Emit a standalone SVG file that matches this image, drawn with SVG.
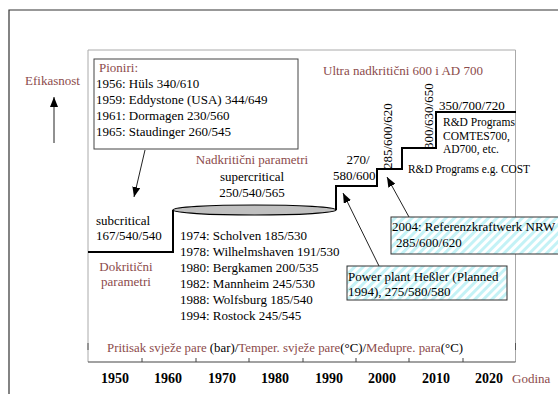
<svg xmlns="http://www.w3.org/2000/svg" width="558" height="394" viewBox="0 0 558 394" font-family="'Liberation Serif', 'Times New Roman', Tinos, 'DejaVu Serif', serif">
<style>
text{font-family:'Liberation Serif','Times New Roman',Tinos,'DejaVu Serif',serif;font-size:13px;fill:#000}
.br{fill:#8C4B4B}
.yr{font-weight:bold;font-size:14px;text-anchor:middle}
.sm{font-size:11.5px}
.step{fill:none;stroke:#000;stroke-width:2}
.arr{stroke:#222;stroke-width:1;fill:none;marker-end:url(#ah)}
.hatch{fill:url(#stripes);stroke:#333;stroke-width:1}
</style>
<defs>
<marker id="ah" viewBox="0 0 10 8" refX="10" refY="4" markerWidth="10" markerHeight="8" markerUnits="userSpaceOnUse" orient="auto">
<path d="M0,0 L10,4 L0,8 Z" fill="#000"/>
</marker>
<pattern id="stripes" width="6" height="6" patternUnits="userSpaceOnUse" patternTransform="rotate(45)">
<rect width="6" height="6" fill="#fff"/>
<rect width="3" height="6" fill="#c4f2f6"/>
</pattern>
</defs>
<rect width="558" height="394" fill="#fff"/>
<g id="frame">
<path d="M9,394 V10 H558" fill="none" stroke="#333" stroke-width="1.2"/>
<path d="M88,362 V50 H515.5 V362" fill="none" stroke="#aaa" stroke-width="1"/>
<path d="M88,362 H515.5" stroke="#444" stroke-width="1.2"/>
<path d="M88,343 v7 M515.5,343 v7" stroke="#555" stroke-width="1"/>
<path d="M142,358 v4 M196,358 v4 M249,358 v4 M303,358 v4 M356,358 v4 M409,358 v4 M463,358 v4" stroke="#444" stroke-width="1"/>
</g>
<g id="axis-labels">
<text class="yr" x="115" y="383">1950</text>
<text class="yr" x="168" y="383">1960</text>
<text class="yr" x="222" y="383">1970</text>
<text class="yr" x="275" y="383">1980</text>
<text class="yr" x="329" y="383">1990</text>
<text class="yr" x="382" y="383">2000</text>
<text class="yr" x="436" y="383">2010</text>
<text class="yr" x="489" y="383">2020</text>
<text class="br" x="512" y="383" font-size="12.5">Godina</text>
<text class="br" x="25" y="85" font-size="12.5">Efikasnost</text>
<text x="107" y="352" font-size="12.5" textLength="356" lengthAdjust="spacingAndGlyphs"><tspan class="br">Pritisak svježe pare</tspan> (bar)/<tspan class="br">Temper. svježe pare</tspan>(°C)/<tspan class="br">Međupre. para</tspan>(°C)</text>
</g>
<g id="steps">
<path class="step" d="M88,252 H173 V210"/>
<ellipse cx="254.5" cy="210" rx="81.5" ry="5" fill="#c0c0c0" stroke="#000" stroke-width="1.2"/>
<path class="step" d="M173,212 V252"/>
<path class="step" d="M336,210 V186 H377 V169 H402 V148 H436 V112 H516"/>
</g>
<g id="connectors">
<path class="arr" d="M54,143 V97"/>
<path class="arr" d="M145,150 L134,197"/>
<path class="arr" d="M379,266 L343,193"/>
<path class="arr" d="M409,217 L387,177"/>
</g>
<g id="pioniri">
<rect x="94" y="59" width="204" height="90" fill="#fff" stroke="#444" stroke-width="1"/>
<text class="br" x="99" y="72">Pioniri:</text>
<text x="96" y="88">1956: Hüls 340/610</text>
<text x="96" y="104">1959: Eddystone (USA) 344/649</text>
<text x="96" y="120">1961: Dormagen 230/560</text>
<text x="96" y="136">1965: Staudinger 260/545</text>
</g>
<g id="subcritical">
<text x="96" y="225">subcritical</text>
<text x="96" y="240">167/540/540</text>
<text class="br" x="126" y="271" text-anchor="middle">Dokritični</text>
<text class="br" x="126" y="286" text-anchor="middle">parametri</text>
</g>
<g id="supercritical">
<text class="br" x="252" y="164" text-anchor="middle">Nadkritični parametri</text>
<text x="252" y="181" text-anchor="middle">supercritical</text>
<text x="252" y="197" text-anchor="middle">250/540/565</text>
</g>
<g id="plants">
<text x="180" y="240">1974: Scholven 185/530</text>
<text x="180" y="256">1978: Wilhelmshaven 191/530</text>
<text x="180" y="272">1980: Bergkamen 200/535</text>
<text x="180" y="288">1982: Mannheim 245/530</text>
<text x="180" y="304">1988: Wolfsburg 185/540</text>
<text x="180" y="320">1994: Rostock 245/545</text>
</g>
<g id="ultra">
<text class="br" x="323" y="75">Ultra nadkritični 600 i AD 700</text>
<text x="358" y="164" text-anchor="middle">270/</text>
<text x="333" y="180">580/600</text>
<text transform="translate(392,169) rotate(-90)">285/600/620</text>
<text transform="translate(433,149) rotate(-90)">300/630/650</text>
<text x="439" y="110">350/700/720</text>
<text class="sm" x="443" y="126">R&amp;D Programs</text>
<text class="sm" x="443" y="140">COMTES700,</text>
<text class="sm" x="443" y="153">AD700, etc.</text>
<text x="408" y="173" font-size="12" textLength="122" lengthAdjust="spacingAndGlyphs">R&amp;D Programs e.g. COST</text>
</g>
<g id="nrw">
<rect class="hatch" x="391" y="217" width="170" height="37"/>
<text x="392" y="231">2004: Referenzkraftwerk NRW</text>
<text x="396" y="247">285/600/620</text>
</g>
<g id="hessler">
<rect class="hatch" x="347" y="266" width="160" height="34"/>
<text x="348" y="281">Power plant Heßler (Planned</text>
<text x="348" y="296">1994), 275/580/580</text>
</g>
</svg>
